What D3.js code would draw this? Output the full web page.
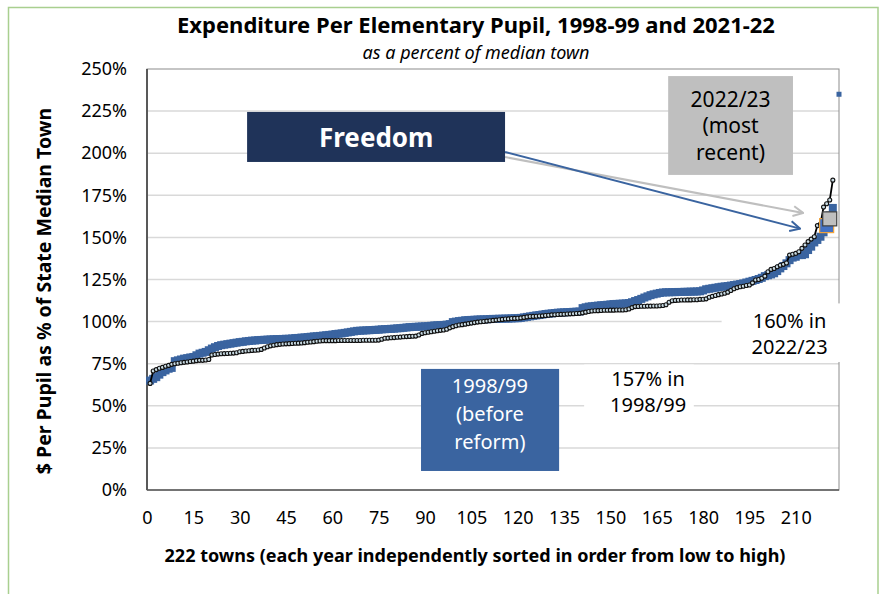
<!DOCTYPE html>
<html>
<head>
<meta charset="utf-8">
<script src="https://cdn.jsdelivr.net/npm/d3@7"></script>
<style>
  body { margin: 0; background: #fff; }
  svg { display: block; font-family: "Noto Sans", sans-serif; }
</style>
</head>
<body>
<div id="chart"></div>
<script>
// 2022/23 values, sorted low to high (town rank 1..222)
const recent = [
  65, 66, 67, 68.5, 70, 71, 72, 72.5,
  76.5, 77, 77.5, 78, 78.3, 78.7, 79, 80,
  81, 81.5, 82, 83, 84, 84.8, 85.5, 86,
  86.3, 86.6, 86.9, 87.2, 87.5, 87.8, 88, 88.3,
  88.5, 88.7, 88.8, 89, 89.1, 89.2, 89.3, 89.4,
  89.5, 89.6, 89.6, 89.7, 89.8, 89.8, 90, 90.2,
  90.3, 90.5, 90.6, 90.8, 91, 91.2, 91.3, 91.5,
  91.7, 91.9, 92.1, 92.3, 92.6, 92.8, 93, 93.3,
  93.6, 93.9, 94.2, 94.5, 94.6, 94.7, 94.8, 94.9,
  95, 95.1, 95.2, 95.4, 95.5, 95.6, 95.7, 95.8,
  96, 96.1, 96.3, 96.5, 96.7, 96.8, 96.9, 97,
  97.1, 97.2, 97.3, 97.5, 97.7, 97.8, 97.9, 98,
  98.2, 98.5, 99.7, 100, 100.3, 100.5, 100.8, 100.9,
  101, 101.1, 101.2, 101.3, 101.3, 101.4, 101.5, 101.6,
  101.6, 101.7, 101.7, 101.8, 101.8, 101.9, 102, 102,
  102.2, 102.5, 102.8, 103.1, 103.4, 103.7, 103.9, 104.2,
  104.5, 104.7, 104.9, 105.1, 105.3, 105.4, 105.5, 105.6,
  105.7, 105.8, 105.9, 106, 108, 108.5, 108.9, 109.1,
  109.3, 109.5, 109.7, 109.8, 110, 110.2, 110.4, 110.5,
  110.6, 110.7, 110.8, 111, 111.5, 112.2, 112.8, 113.5,
  114.3, 115, 115.7, 116.2, 116.6, 117, 117.3, 117.4,
  117.4, 117.5, 117.5, 117.6, 117.6, 117.7, 117.7, 117.8,
  117.8, 117.9, 118, 118.5, 119.2, 119.5, 119.8, 120.1,
  120.4, 120.7, 120.9, 121.1, 121.4, 121.7, 122, 122.3,
  122.7, 123.2, 123.7, 124.2, 124.7, 125.3, 126, 127,
  127.5, 128, 128.7, 130, 131.6, 133, 134.6, 136.5,
  138, 138.5, 139.5, 139.5, 140, 142.5, 144.5, 147,
  148.5, 150.4, 153, 157, 163, 167.5
];

// 1998/99 values, sorted low to high
const before = [
  63.3, 70.7, 71.5, 72.3, 72.8, 73.5, 74, 74.6,
  75, 75.3, 75.6, 75.8, 76, 76.3, 76.5, 76.8,
  77, 77, 77.2, 77.5, 80.2, 80.5, 80.7, 80.9,
  81, 81.1, 81.2, 81.3, 81.5, 82.1, 82.3, 82.5,
  82.7, 82.9, 83, 83.1, 83.5, 84.3, 85.1, 85.6,
  86, 86.3, 86.5, 86.7, 86.8, 86.9, 87, 87.1,
  87.2, 87.3, 87.5, 87.7, 87.9, 88.1, 88.3, 88.5,
  88.7, 88.7, 88.7, 88.7, 88.7, 88.8, 88.8, 88.8,
  88.8, 88.8, 88.8, 88.8, 88.8, 88.9, 88.9, 88.9,
  88.9, 88.9, 89, 89.5, 90.1, 90.2, 90.4, 90.5,
  90.7, 90.8, 91, 91.1, 91.2, 91.3, 91.4, 92,
  93, 93.4, 93.7, 94, 94.3, 94.6, 94.8, 95,
  95.5, 96.3, 97, 97.5, 98, 98.2, 98.5, 98.8,
  99.1, 99.4, 99.7, 99.9, 100.1, 100.3, 100.5, 100.7,
  100.9, 101.1, 101.3, 101.5, 101.6, 101.8, 101.9, 102,
  102.2, 102.5, 102.8, 103, 103.1, 103.2, 103.3, 103.4,
  103.6, 103.8, 104, 104.1, 104.2, 104.3, 104.4, 104.5,
  104.6, 104.7, 104.8, 104.9, 105.2, 105.6, 106, 106.3,
  106.4, 106.5, 106.6, 106.7, 106.7, 106.8, 106.8, 106.9,
  106.9, 106.9, 107, 107.5, 108.3, 108.9, 109, 109.1,
  109.1, 109.2, 109.2, 109.3, 109.3, 109.4, 109.6, 110,
  111.5, 112.4, 112.6, 112.7, 112.8, 112.8, 112.9, 112.9,
  113, 113, 113.2, 113.3, 113.5, 114.5, 115, 115.5,
  116, 116.4, 116.8, 117.5, 118.5, 119.5, 120.2, 120.7,
  121, 121.4, 121.7, 123, 124.7, 125, 125.7, 127,
  129.6, 131, 131.5, 132.6, 133.5, 134, 134.8, 139.5,
  140, 140.5, 141.5, 143.5, 145.5, 147.5, 149, 150.4,
  157, 158, 168, 170, 172.2, 184
];

// isolated top point and Freedom highlight markers [rank, percent]
const outlier = [224, 235];
const freedomRecent = [221, 161];
const freedomBlue = [220, 157];

const yTicks = [0, 25, 50, 75, 100, 125, 150, 175, 200, 225, 250];
const xTicks = [0, 15, 30, 45, 60, 75, 90, 105, 120, 135, 150, 165, 180, 195, 210];

const width = 884, height = 594;
const margin = { top: 69, right: 45, bottom: 104, left: 147 };

const svg = d3.select("#chart").append("svg")
  .attr("width", width)
  .attr("height", height);

// green outer frame
svg.append("rect")
  .attr("x", 8.5).attr("y", 7.5)
  .attr("width", 869.5).attr("height", 600)
  .attr("fill", "none")
  .attr("stroke", "#a9cf8f")
  .attr("stroke-width", 1.5);

const x = d3.scaleLinear().domain([0, 224]).range([margin.left, width - margin.right]);
const y = d3.scaleLinear().domain([0, 250]).range([height - margin.bottom, margin.top]);

// gridlines
svg.append("g")
  .selectAll("line")
  .data(yTicks.filter((d) => d > 0 && d < 250))
  .join("line")
  .attr("x1", x(0)).attr("x2", x(224))
  .attr("y1", (d) => y(d)).attr("y2", (d) => y(d))
  .attr("stroke", "#d9d9d9")
  .attr("stroke-width", 1.5);

// plot frame
svg.append("rect")
  .attr("x", x(0)).attr("y", y(250))
  .attr("width", x(224) - x(0)).attr("height", y(0) - y(250))
  .attr("fill", "none")
  .attr("stroke", "#8c8c8c")
  .attr("stroke-width", 1);
svg.append("line")
  .attr("x1", x(0)).attr("x2", x(0)).attr("y1", y(0)).attr("y2", y(250))
  .attr("stroke", "#595959").attr("stroke-width", 2);
svg.append("line")
  .attr("x1", x(0)).attr("x2", x(224)).attr("y1", y(0)).attr("y2", y(0))
  .attr("stroke", "#595959").attr("stroke-width", 1.5);

// axes
const yAxis = d3.axisLeft(y).tickValues(yTicks).tickFormat((d) => d + "%").tickSize(0).tickPadding(20);
svg.append("g")
  .attr("transform", `translate(${x(0)},0)`)
  .call(yAxis)
  .call((g) => g.select(".domain").remove())
  .selectAll("text")
  .attr("font-family", "Noto Sans, sans-serif")
  .attr("font-size", 18)
  .attr("fill", "#000");

const xAxis = d3.axisBottom(x).tickValues(xTicks).tickSize(0).tickPadding(21);
svg.append("g")
  .attr("transform", `translate(0,${y(0)})`)
  .call(xAxis)
  .call((g) => g.select(".domain").remove())
  .selectAll("text")
  .attr("font-family", "Noto Sans, sans-serif")
  .attr("font-size", 18)
  .attr("fill", "#000");

// 2022/23 series: square markers
const sq = 8;
svg.append("g")
  .selectAll("rect")
  .data(recent)
  .join("rect")
  .attr("x", (d, i) => x(i + 1) - sq / 2)
  .attr("y", (d) => y(d) - sq / 2)
  .attr("width", sq).attr("height", sq)
  .attr("fill", "#3a64a0");

svg.append("rect")
  .attr("x", x(outlier[0]) - 2.5).attr("y", y(outlier[1]) - 2.5)
  .attr("width", 5).attr("height", 5)
  .attr("fill", "#3a64a0");

// 1998/99 series: line + small circles
const line = d3.line().x((d, i) => x(i + 1)).y((d) => y(d));
svg.append("path")
  .datum(before)
  .attr("d", line)
  .attr("fill", "none")
  .attr("stroke", "#000")
  .attr("stroke-width", 1.8);

svg.append("g")
  .selectAll("circle")
  .data(before)
  .join("circle")
  .attr("cx", (d, i) => x(i + 1))
  .attr("cy", (d) => y(d))
  .attr("r", 2)
  .attr("fill", "#c9dbe3")
  .attr("stroke", "#111")
  .attr("stroke-width", 1.1);

// Freedom highlight markers
svg.append("rect")
  .attr("x", x(freedomBlue[0]) - 7).attr("y", y(freedomBlue[1]) - 7)
  .attr("width", 14).attr("height", 14)
  .attr("fill", "#4472c4")
  .attr("stroke", "#f2a33a").attr("stroke-width", 1.2);
svg.append("rect")
  .attr("x", x(freedomRecent[0]) - 7).attr("y", y(freedomRecent[1]) - 7)
  .attr("width", 14).attr("height", 14)
  .attr("fill", "#bfbfbf")
  .attr("stroke", "#404040").attr("stroke-width", 1.2);

// arrows
const defs = svg.append("defs");
function marker(id, color) {
  defs.append("marker")
    .attr("id", id)
    .attr("viewBox", "0 0 12 12")
    .attr("refX", 11).attr("refY", 6)
    .attr("markerWidth", 12).attr("markerHeight", 12)
    .attr("markerUnits", "userSpaceOnUse")
    .attr("orient", "auto")
    .append("path")
    .attr("d", "M1,1 L11,6 L1,11")
    .attr("fill", "none")
    .attr("stroke", color)
    .attr("stroke-width", 2);
}
marker("arrGrey", "#bfbfbf");
marker("arrBlue", "#3a64a0");

svg.append("line")
  .attr("x1", x(115.9)).attr("y1", y(197.7))
  .attr("x2", x(212.4)).attr("y2", y(164.5))
  .attr("stroke", "#bfbfbf").attr("stroke-width", 2)
  .attr("marker-end", "url(#arrGrey)");
svg.append("line")
  .attr("x1", x(115.9)).attr("y1", y(200.7))
  .attr("x2", x(211.4)).attr("y2", y(155.2))
  .attr("stroke", "#3a64a0").attr("stroke-width", 2)
  .attr("marker-end", "url(#arrBlue)");

// annotation boxes
function box(x0, x1, v0, v1, fill) {
  svg.append("rect")
    .attr("x", x(x0)).attr("y", y(v0))
    .attr("width", x(x1) - x(x0)).attr("height", y(v1) - y(v0))
    .attr("fill", fill);
}
function label(cx, v, lines, color, size, weight, gap) {
  const t = svg.append("text")
    .attr("text-anchor", "middle")
    .attr("font-size", size)
    .attr("font-weight", weight)
    .attr("fill", color);
  lines.forEach((s, k) => {
    t.append("tspan").attr("x", x(cx)).attr("y", y(v) + k * gap).text(s);
  });
}

box(32.4, 115.9, 224.5, 194.8, "#1f3359");
label(74.2, 203.5, ["Freedom"], "#fff", 26, 700, 0);

box(168.7, 209.1, 245.8, 187.1, "#bfbfbf");
label(188.9, 227.5, ["2022/23", "(most", "recent)"], "#000", 21, 400, 26.5);

box(88.7, 133.4, 71.9, 11.3, "#3a64a0");
label(111, 57.5, ["1998/99", "(before", "reform)"], "#fff", 20, 400, 28);

box(141.5, 177, 74.5, 40.5, "#fff");
label(162.2, 61.5, ["157% in", "1998/99"], "#000", 20, 400, 26);

box(186, 225, 110.8, 76, "#fff");
label(208, 96, ["160% in", "2022/23"], "#000", 20, 400, 26);

// titles
svg.append("text")
  .attr("x", 476).attr("y", 33)
  .attr("text-anchor", "middle")
  .attr("font-size", 22).attr("font-weight", 700)
  .text("Expenditure Per Elementary Pupil, 1998-99 and 2021-22");
svg.append("text")
  .attr("x", 476).attr("y", 59)
  .attr("text-anchor", "middle")
  .attr("font-size", 18).attr("font-style", "italic")
  .text("as a percent of median town");

svg.append("text")
  .attr("transform", "translate(51,291) rotate(-90)")
  .attr("text-anchor", "middle")
  .attr("font-size", 19.5).attr("font-weight", 700)
  .text("$ Per Pupil as % of State Median Town");

svg.append("text")
  .attr("x", 475).attr("y", 562)
  .attr("text-anchor", "middle")
  .attr("font-size", 18).attr("font-weight", 700)
  .text("222 towns (each year independently sorted in order from low to high)");
</script>
</body>
</html>
